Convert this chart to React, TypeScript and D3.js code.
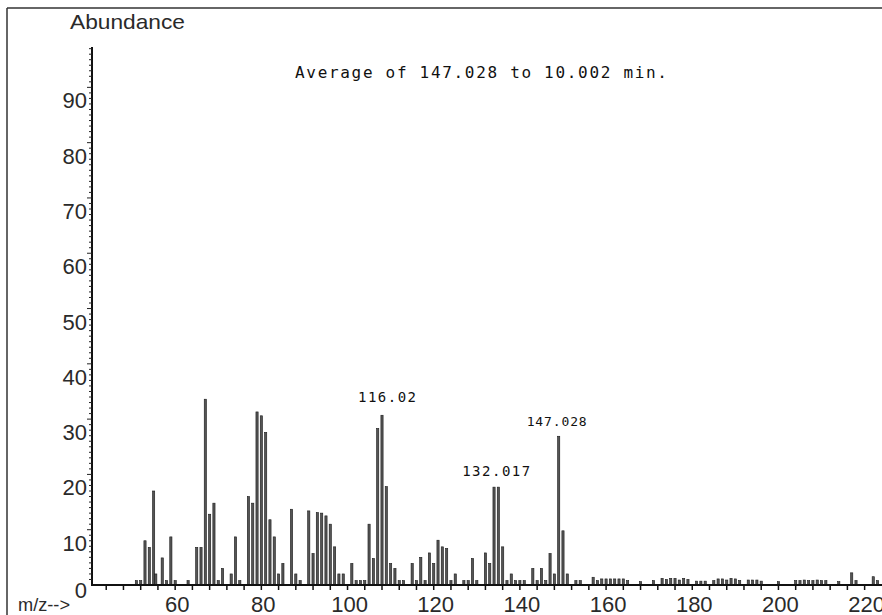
import React from "react";
import * as d3 from "d3";

// m/z positions and abundances
const mzValues = [
  51, 52, 53, 54, 55, 55.5, 57, 58, 59, 60, 63, 65, 66, 67, 68, 69, 70, 71, 73, 74, 75,
  77, 78, 79, 80, 81, 82, 83, 84, 85, 87, 88, 89, 91, 92, 93, 94, 95, 96, 97, 98, 99,
  101, 102, 103, 104, 105, 106, 107, 108, 109, 110, 111, 112, 113, 115, 116, 117, 118,
  119, 120, 121, 122, 123, 124, 125, 127, 128, 129, 130, 132, 133, 134, 135, 136, 137,
  138, 139, 140, 141, 143, 144, 145, 146, 147, 148, 149, 150, 151, 153, 154, 157,
  158, 159, 160, 161, 162, 163, 164, 165, 168, 171, 173, 174, 175, 176, 177, 178, 179,
  181, 182, 183, 185, 186, 187, 188, 189, 190, 191, 193, 194, 195, 196, 200,
  204, 205, 206, 207, 208, 209, 210, 211, 214, 217, 218, 222, 223,
];
const abundances = [
  0.8, 0.8, 8.0, 6.8, 17.0, 2.0, 4.9, 0.8, 8.7, 0.8, 0.8, 6.8, 6.8, 33.6, 12.8, 14.8, 0.8, 3.0, 2.0, 8.7, 0.8,
  16.0, 14.8, 31.3, 30.6, 27.6, 11.8, 8.7, 2.0, 3.9, 13.7, 2.0, 0.8, 13.4, 5.7, 13.1, 13.0, 12.5, 11.0, 6.9, 2.0, 2.0,
  3.9, 0.8, 0.8, 0.8, 11.0, 4.8, 28.3, 30.7, 17.8, 3.9, 3.0, 0.8, 0.8, 3.9, 0.8, 5.0, 0.8,
  5.8, 3.9, 8.1, 6.9, 6.6, 0.8, 2.0, 0.8, 0.8, 4.8, 0.8, 5.8, 3.9, 17.7, 17.7, 6.9, 0.8,
  2.0, 0.8, 0.8, 0.8, 3.0, 0.8, 3.0, 0.8, 5.7, 2.0, 26.9, 9.8, 2.0, 0.8, 0.8, 1.4,
  0.8, 1.1, 1.1, 1.1, 1.1, 1.1, 1.1, 0.8, 0.6, 0.8, 1.2, 1.0, 1.2, 1.2, 0.9, 1.2, 1.0,
  0.7, 0.7, 0.7, 0.8, 1.1, 1.1, 0.9, 1.2, 1.1, 0.8, 0.9, 0.9, 0.9, 0.7, 0.6,
  0.8, 0.8, 0.9, 0.8, 0.8, 0.9, 0.8, 0.8, 0.6, 2.2, 0.8, 1.5, 0.8,
];

const xTickLabels = [60, 80, 100, 120, 140, 160, 180, 200, 220];
const yTickLabels = [0, 10, 20, 30, 40, 50, 60, 70, 80, 90];

const annotationMz = [108, 134.5, 149];
const annotationText = ["116.02", "132.017", "147.028"];

const titleText = "Average of 147.028  to 10.002 min.";
const yAxisTitle = "Abundance";
const xAxisTitle = "m/z-->";

export default function App() {
  const W = 882;
  const H = 615;
  const axisX = 92;
  const axisY = 585;
  const x = d3.scaleLinear().domain([40.7, 223.8]).range([axisX, 881]);
  const y = d3.scaleLinear().domain([0, 97.3]).range([axisY, 47]);

  const xMinorTicks = d3.range(44, 224, 4);
  const yMinorTicks = d3.range(1, 98, 1);

  const annSizes = [14, 14, 13];
  const annWidths = [58, 68, 60];
  const annDx = [5, 0, -2];
  const annDy = [-13, -11, -10];

  const peakValue = (m: number) => {
    let best = 0;
    mzValues.forEach((v, i) => {
      if (Math.abs(v - m) <= 0.6) best = Math.max(best, abundances[i]);
    });
    return best;
  };

  const textColor = "#2a2a2a";

  return (
    <svg
      width={W}
      height={H}
      style={{ position: "absolute", left: 0, top: 0, background: "#fff" }}
    >
      <rect x={0} y={0} width={W} height={H} fill="#fff" />
      {/* frame */}
      <line x1={7} y1={8} x2={W} y2={8} stroke="#333" strokeWidth={1.5} />
      <line x1={7} y1={8} x2={7} y2={H} stroke="#333" strokeWidth={1.5} />

      {/* y axis title */}
      <text
        x={70}
        y={29}
        fontFamily="'Liberation Sans', Arial, sans-serif"
        fontSize={21}
        fill={textColor}
        textLength={115}
        lengthAdjust="spacingAndGlyphs"
      >
        {yAxisTitle}
      </text>

      {/* title */}
      <text
        x={295}
        y={78}
        fontFamily="'DejaVu Sans Mono', monospace"
        fontSize={16}
        fill="#111"
        textLength={372}
        lengthAdjust="spacing"
      >
        {titleText}
      </text>

      {/* bars */}
      {mzValues.map((m, i) => (
        <rect
          key={i}
          x={x(m) - 1.1}
          y={y(abundances[i])}
          width={2.2}
          height={axisY - y(abundances[i])}
          fill="#555"
          stroke="#1a1a1a"
          strokeWidth={0.6}
        />
      ))}

      {/* y axis */}
      <line x1={axisX} y1={y(97.3)} x2={axisX} y2={axisY + 1} stroke="#111" strokeWidth={2} />
      {yMinorTicks.map((t) => (
        <line
          key={t}
          x1={axisX - (t % 10 === 0 ? 5 : 3)}
          x2={axisX}
          y1={y(t)}
          y2={y(t)}
          stroke="#222"
          strokeWidth={1}
        />
      ))}
      {yTickLabels.map((t) => (
        <text
          key={t}
          x={87}
          y={t === 0 ? axisY + 13 : y(t) + 21}
          textAnchor="end"
          fontFamily="'Liberation Sans', Arial, sans-serif"
          fontSize={22}
          fill={textColor}
        >
          {t}
        </text>
      ))}

      {/* x axis */}
      <line x1={axisX - 1} y1={axisY} x2={W} y2={axisY} stroke="#111" strokeWidth={2} />
      {xMinorTicks.map((t) => (
        <line
          key={t}
          x1={x(t)}
          x2={x(t)}
          y1={axisY}
          y2={axisY + 5}
          stroke="#111"
          strokeWidth={1.5}
        />
      ))}
      {xTickLabels.map((t) => (
        <text
          key={t}
          x={x(t) + 2}
          y={612}
          textAnchor="middle"
          fontFamily="'Liberation Sans', Arial, sans-serif"
          fontSize={22}
          fill={textColor}
        >
          {t}
        </text>
      ))}
      <text
        x={18}
        y={611}
        fontFamily="'Liberation Sans', Arial, sans-serif"
        fontSize={18}
        fill={textColor}
        textLength={52}
        lengthAdjust="spacingAndGlyphs"
      >
        {xAxisTitle}
      </text>

      {/* peak annotations */}
      {annotationMz.map((m, i) => (
        <text
          key={i}
          x={x(m) + annDx[i]}
          y={y(peakValue(m)) + annDy[i]}
          textAnchor="middle"
          fontFamily="'DejaVu Sans Mono', monospace"
          fontSize={annSizes[i]}
          fill="#111"
          textLength={annWidths[i]}
          lengthAdjust="spacing"
        >
          {annotationText[i]}
        </text>
      ))}
    </svg>
  );
}
